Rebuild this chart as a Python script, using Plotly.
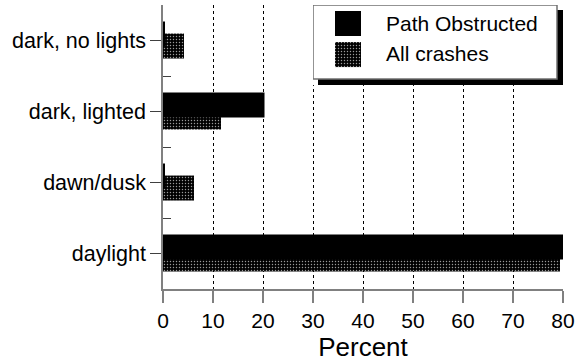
import plotly.graph_objects as go

# data (percent of crashes by light condition)
categories = ["daylight", "dawn/dusk", "dark, lighted", "dark, no lights"]
path_obstructed = [80.2, 0.3, 20.3, 0.3]
all_crashes = [79.4, 6.2, 11.6, 4.2]
x_ticks = [0, 10, 20, 30, 40, 50, 60, 70, 80]
series_names = ["Path Obstructed", "All crashes"]

FONT = "Liberation Sans, Arial, Helvetica, sans-serif"
ypos = list(range(len(categories)))

dot_pattern = dict(shape=".", bgcolor="black", fgcolor="#9a9a9a",
                   size=3, solidity=0.18, fillmode="replace")

fig = go.Figure()

# All crashes drawn first (lower, partly hidden by the black bar)
fig.add_trace(go.Bar(
    x=all_crashes, y=ypos, orientation="h", name=series_names[1],
    width=0.352, offset=-0.254,
    marker=dict(color="black", line=dict(width=0), pattern=dot_pattern),
    showlegend=False,
))
fig.add_trace(go.Bar(
    x=path_obstructed, y=ypos, orientation="h", name=series_names[0],
    width=0.352, offset=-0.085,
    marker=dict(color="black", line=dict(width=0)),
    showlegend=False,
))

# legend swatch for the dotted series, on a hidden helper subplot
fig.add_trace(go.Bar(
    x=[26], y=[54.5], base=[335], orientation="h", width=25,
    marker=dict(color="black", line=dict(width=0), pattern=dot_pattern),
    xaxis="x2", yaxis="y2", showlegend=False, hoverinfo="skip",
))

fig.update_layout(
    width=576, height=362,
    margin=dict(l=163, r=13, t=5, b=73),
    paper_bgcolor="white", plot_bgcolor="white",
    barmode="overlay",
    font=dict(family=FONT, size=21, color="black"),
    xaxis=dict(
        range=[0, 80], tickvals=x_ticks, ticks="outside", ticklen=12,
        tickcolor="#808080", tickwidth=1.5,
        showline=True, linecolor="#808080", linewidth=1.5,
        showgrid=True, gridcolor="black", griddash="dot", gridwidth=1,
        zeroline=False, automargin=False,
        title=dict(text="Percent", font=dict(size=26), standoff=2),
        tickfont=dict(size=21),
    ),
    yaxis=dict(
        range=[-0.5, 3.5], tickvals=ypos, ticktext=categories,
        ticks="outside", ticklen=11, tickcolor="#404040", tickwidth=1,
        showline=True, linecolor="#808080", linewidth=1.5,
        showgrid=False, zeroline=False, automargin=False,
        minor=dict(tickvals=[0.5, 1.5, 2.5], ticks="inside", ticklen=8,
                   tickcolor="#404040", tickwidth=1, showgrid=False),
        tickfont=dict(size=21.5),
    ),
    xaxis2=dict(domain=[0.375, 1.0], range=[313, 563], anchor="y2",
                visible=False, fixedrange=True),
    yaxis2=dict(domain=[0.718, 1.0], range=[85, 5], anchor="x2",
                visible=False, fixedrange=True),
)

# legend box with drop shadow
fig.add_shape(type="rect", xref="x2", yref="y2", x0=318, x1=563, y0=10, y1=85,
              fillcolor="black", line=dict(width=0), layer="below")
fig.add_shape(type="rect", xref="x2", yref="y2", x0=313, x1=557, y0=5, y1=79,
              fillcolor="white", line=dict(color="#707070", width=1.5), layer="below")
fig.add_shape(type="rect", xref="x2", yref="y2", x0=335, x1=361, y0=11, y1=36,
              fillcolor="black", line=dict(width=0), layer="above")

for name, yc in zip(series_names, [23, 53]):
    fig.add_annotation(x=384, y=yc, xref="x2", yref="y2", text=name,
                       showarrow=False, xanchor="left", yanchor="middle",
                       font=dict(size=21))

# page body has an 8px default margin; drop it so the figure fills the window
fig.write_html("out.html", config={"displayModeBar": False},
               post_script="document.body.style.margin='0';")
